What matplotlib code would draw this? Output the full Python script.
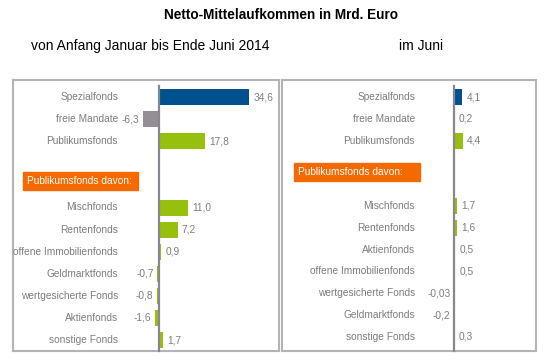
import numpy as np
import matplotlib
matplotlib.use("Agg")
import matplotlib.pyplot as plt
from matplotlib.patches import Rectangle

plt.rcParams['font.family'] = ['Liberation Sans', 'DejaVu Sans']

################# Data #################

# von Anfang Januar bis Ende Juni 2014
cats_top = ['Spezialfonds', 'freie Mandate', 'Publikumsfonds']
vals_top_ytd = [34.6, -6.3, 17.8]
vals_top_jun = [4.1, 0.2, 4.4]

cats_sub_ytd = ['Mischfonds', 'Rentenfonds', 'offene Immobilienfonds', 'Geldmarktfonds',
                'wertgesicherte Fonds', 'Aktienfonds', 'sonstige Fonds']
vals_sub_ytd = [11.0, 7.2, 0.9, -0.7, -0.8, -1.6, 1.7]

# im Juni
cats_sub_jun = ['Mischfonds', 'Rentenfonds', 'Aktienfonds', 'offene Immobilienfonds',
                'wertgesicherte Fonds', 'Geldmarktfonds', 'sonstige Fonds']
vals_sub_jun = [1.7, 1.6, 0.5, 0.5, -0.03, -0.2, 0.3]

top_colors = ['#00518e', '#958e96', '#97bf0d']
sub_color = '#97bf0d'
orange = '#f46a00'
grey_txt = '#7d7d7d'
axis_col = '#8a8590'
box_col = '#b4b4b4'

W, H = 546, 364
fig = plt.figure(figsize=(W / 100, H / 100), dpi=100)


def fx(x):
    return x / W


def fy(y):
    return 1 - y / H


def fmt(v):
    if v != 0 and abs(v) < 0.1:
        s = f"{v:.2f}"
    else:
        s = f"{v:.1f}"
    return s.replace('.', ',')


def panel(left, right, zero, scale, top, bottom, row0, step, cats, vals, colors,
          label_x, hdr_box):
    ax = fig.add_axes([fx(left), fy(bottom), fx(right - left), (bottom - top) / H])
    ax.set_xlim(-(zero - left) / scale, (right - zero) / scale)
    ax.set_ylim(bottom, top)  # y in pixel units, top down
    ax.set_xticks([])
    ax.set_yticks([])
    for sp in ax.spines.values():
        sp.set_color(box_col)
        sp.set_linewidth(1.5)

    # rows 0-2 main groups, rows 5-11 the Publikumsfonds breakdown
    ys = [row0 + i * step for i in [0, 1, 2]] + [row0 + i * step for i in range(5, 12)]
    ax.barh(ys, vals, height=16, color=colors, zorder=2)
    ax.plot([0, 0], [86, bottom], color=axis_col, lw=1.6, zorder=3, clip_on=False)

    lx = (label_x - zero) / scale
    for y, c, v in zip(ys, cats, vals):
        ax.text(lx, y, c, ha='right', va='center', fontsize=7.3, color=grey_txt)
        if v >= 0:
            ax.annotate(fmt(v), (v, y), xytext=(3, 0), textcoords='offset points',
                        ha='left', va='center', fontsize=7.3, color=grey_txt)
        else:
            ax.annotate(fmt(v), (v, y), xytext=(-2.5, 0), textcoords='offset points',
                        ha='right', va='center', fontsize=7.3, color=grey_txt)

    # orange header "Publikumsfonds davon:"
    x0, x1, y0, y1 = hdr_box
    fig.patches.append(Rectangle((fx(x0), fy(y1)), fx(x1 - x0), (y1 - y0) / H,
                                 transform=fig.transFigure, color=orange, zorder=5))
    fig.text(fx(x0 + 4), fy((y0 + y1) / 2), 'Publikumsfonds davon:', ha='left',
             va='center', fontsize=7.3, color='white', zorder=6)
    return ax


panel(13, 279, 159, 2.6, 80, 351, 97, 22.1, cats_top + cats_sub_ytd,
      vals_top_ytd + vals_sub_ytd, top_colors + [sub_color] * 7, 118,
      (23, 138, 172, 190))
panel(282, 536, 454, 2.05, 80, 351, 97, 21.8, cats_top + cats_sub_jun,
      vals_top_jun + vals_sub_jun, top_colors + [sub_color] * 7, 415,
      (294, 420, 163, 181))

fig.text(fx(281), fy(15), 'Netto-Mittelaufkommen in Mrd. Euro', ha='center',
         va='center', fontsize=9.8, fontweight='bold', color='black')
fig.text(fx(150), fy(46), 'von Anfang Januar bis Ende Juni 2014', ha='center',
         va='center', fontsize=10, color='black')
fig.text(fx(421), fy(46), 'im Juni', ha='center', va='center', fontsize=10,
         color='black')

fig.savefig('out.png', dpi=100)
